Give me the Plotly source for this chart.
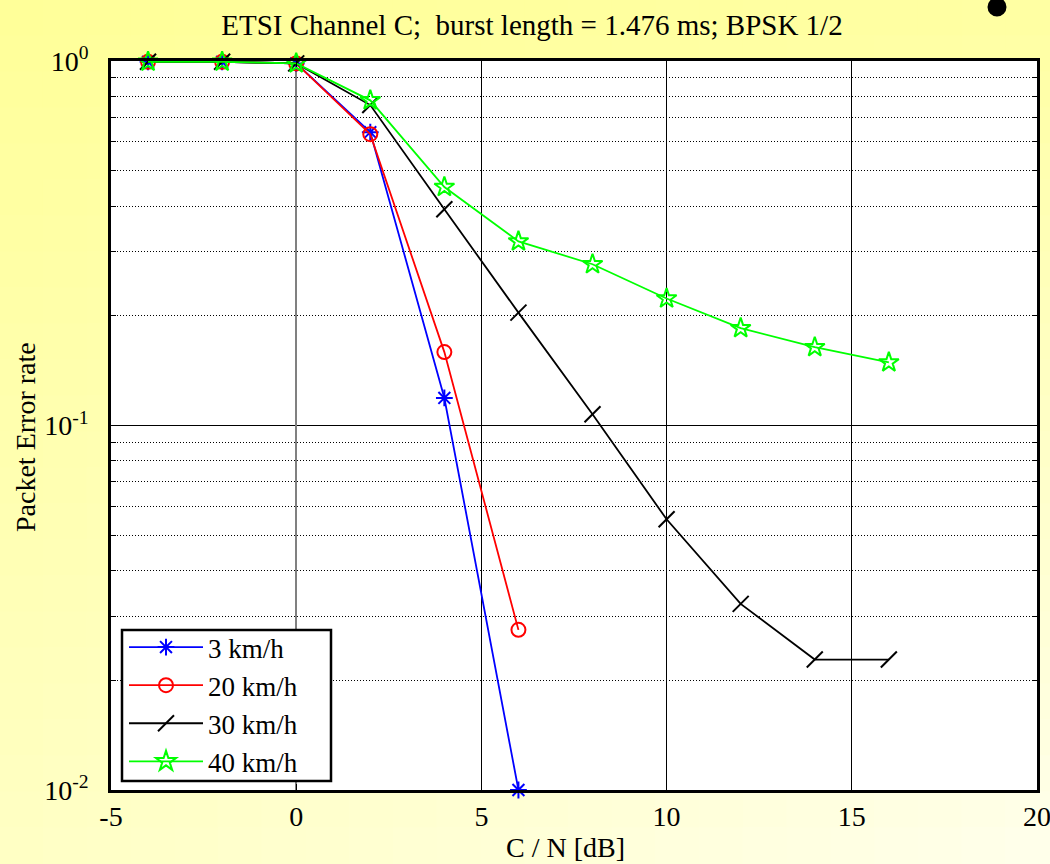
import plotly.graph_objects as go

# ---- data ----
cn_db = [-4, -2, 0, 2, 4, 6, 8, 10, 12, 14, 16]
per_3kmh = [0.995, 0.995, 0.985, 0.638, 0.119, 0.010]
per_20kmh = [0.995, 0.995, 0.985, 0.630, 0.159, 0.0275]
per_30kmh = [0.995, 0.995, 0.985, 0.757, 0.392, 0.204, 0.1074, 0.0553, 0.0324, 0.0228, 0.0228]
per_40kmh = [0.995, 0.995, 0.985, 0.780, 0.451, 0.320, 0.277, 0.223, 0.185, 0.164, 0.149]
series_names = ["3 km/h", "20 km/h", "30 km/h", "40 km/h"]
x_ticks = [-5, 0, 5, 10, 15, 20]
x_ticktext = ["-5", "0", "5", "10", "15", "20"]
y_tickvals = [0.01, 0.1, 1]
y_ticktext = ["10<sup>-2</sup>", "10<sup>-1</sup>", "10<sup>0</sup>"]

FONT = "Liberation Serif, Times New Roman, serif"
FS = 28
W, H = 1050, 864
L, R, T, B = 111, 1037, 61, 790


def px2x(px):
    return (px - L) / (R - L)


def py2y(py):
    return (B - py) / (B - T)


fig = go.Figure()

styles = [
    dict(color="#0000FF", symbol="asterisk-open", size=14),
    dict(color="#FF0000", symbol="circle-open", size=14),
    dict(color="#000000", symbol="line-ne-open", size=16),
    dict(color="#00FF00", symbol="star-open", size=15),
]
all_y = [per_3kmh, per_20kmh, per_30kmh, per_40kmh]
for name, ys, st in zip(series_names, all_y, styles):
    fig.add_trace(go.Scatter(
        x=cn_db[:len(ys)], y=ys, name=name, mode="lines+markers",
        line=dict(color=st["color"], width=1.8),
        marker=dict(symbol=st["symbol"], size=st["size"], color=st["color"],
                    line=dict(color=st["color"], width=2)),
        cliponaxis=False,
    ))

# ---- background gradient (outside the plot area) ----
shapes = []
NX, NY = 24, 24
tl, tr, bl, br = 152, 162, 196, 236
for i in range(NX):
    for j in range(NY):
        nx = (i + 0.5) / NX
        ny = (j + 0.5) / NY
        b = (tl * (1 - nx) * (1 - ny) + tr * nx * (1 - ny)
             + bl * (1 - nx) * ny + br * nx * ny)
        b = int(round(b))
        x0 = px2x(i * W / NX) - 0.001
        x1 = px2x((i + 1) * W / NX) + 0.001
        y0 = py2y(j * H / NY) + 0.001
        y1 = py2y((j + 1) * H / NY) - 0.001
        shapes.append(dict(type="rect", xref="paper", yref="paper",
                           x0=x0, x1=x1, y0=y1, y1=y0, layer="below",
                           line=dict(width=0), fillcolor=f"rgb(255,255,{b})"))
# white plot area
shapes.append(dict(type="rect", xref="paper", yref="paper", x0=0, x1=1, y0=0, y1=1,
                   layer="below", line=dict(width=0), fillcolor="white"))
# legend box
shapes.append(dict(type="rect", xref="paper", yref="paper",
                   x0=px2x(122), x1=px2x(331), y0=py2y(781), y1=py2y(630),
                   layer="above", line=dict(width=2.5, color="black"), fillcolor="white"))
# bullet dot top right
shapes.append(dict(type="circle", xref="paper", yref="paper",
                   x0=px2x(987.5), x1=px2x(1006.5), y0=py2y(16.5), y1=py2y(-2.5),
                   line=dict(width=0), fillcolor="black", layer="above"))

minor_vals = [m * 10 ** e for e in (-2, -1) for m in range(2, 10)]

fig.update_layout(
    width=W, height=H,
    margin=dict(l=L, r=W - R, t=T, b=H - B, autoexpand=False),
    paper_bgcolor="rgb(255,255,200)",
    plot_bgcolor="white",
    shapes=shapes,
    showlegend=True,
    font=dict(family=FONT, size=FS, color="black"),
    title=dict(text="ETSI Channel C;  burst length = 1.476 ms; BPSK 1/2",
               x=532 / W, xanchor="center", y=1 - 25 / H, yanchor="middle",
               font=dict(family=FONT, size=FS + 1, color="black")),
    legend=dict(x=px2x(124), y=py2y(623), xanchor="left", yanchor="top",
                bgcolor="rgba(0,0,0,0)", borderwidth=0,
                font=dict(family=FONT, size=27, color="black"),
                itemwidth=74, tracegroupgap=0),
    xaxis=dict(range=[-5, 20], tickmode="array", tickvals=x_ticks, ticktext=x_ticktext,
               ticks="inside", ticklen=6, automargin=False, ticklabeloverflow="allow",
               tickcolor="black", mirror="ticks", showline=True, linecolor="black",
               linewidth=2.5, showgrid=True, gridcolor="black", gridwidth=1,
               zeroline=True, zerolinecolor="#808080", zerolinewidth=2,
               ticklabelstandoff=0,
               tickfont=dict(family=FONT, size=FS, color="black")),
    yaxis=dict(type="log", range=[-2, 0], tickmode="array", tickvals=y_tickvals,
               ticktext=y_ticktext, ticks="inside", ticklen=6, tickcolor="black",
               mirror="ticks", showline=True, linecolor="black", linewidth=2.5,
               showgrid=True, gridcolor="black", gridwidth=1, automargin=False,
               ticklabeloverflow="allow", ticklabelstandoff=14,
               tickfont=dict(family=FONT, size=FS, color="black"),
               minor=dict(tickmode="array", tickvals=minor_vals, ticks="inside",
                          ticklen=5, tickcolor="black", showgrid=True,
                          gridcolor="black", gridwidth=1.2, griddash="1px,2px")),
    annotations=[
        dict(text="Packet Error rate", xref="paper", yref="paper",
             x=px2x(26), y=py2y(437), xanchor="center", yanchor="middle",
             textangle=-90, showarrow=False,
             font=dict(family=FONT, size=FS, color="black")),
        dict(text="C / N [dB]", xref="paper", yref="paper",
             x=px2x(565), y=py2y(864), xanchor="center", yanchor="bottom",
             borderpad=0, showarrow=False,
             font=dict(family=FONT, size=FS, color="black")),
    ],
)

fig.write_html("out.html", config={"displayModeBar": False},
               post_script="document.body.style.margin='0';document.body.style.padding='0';")
